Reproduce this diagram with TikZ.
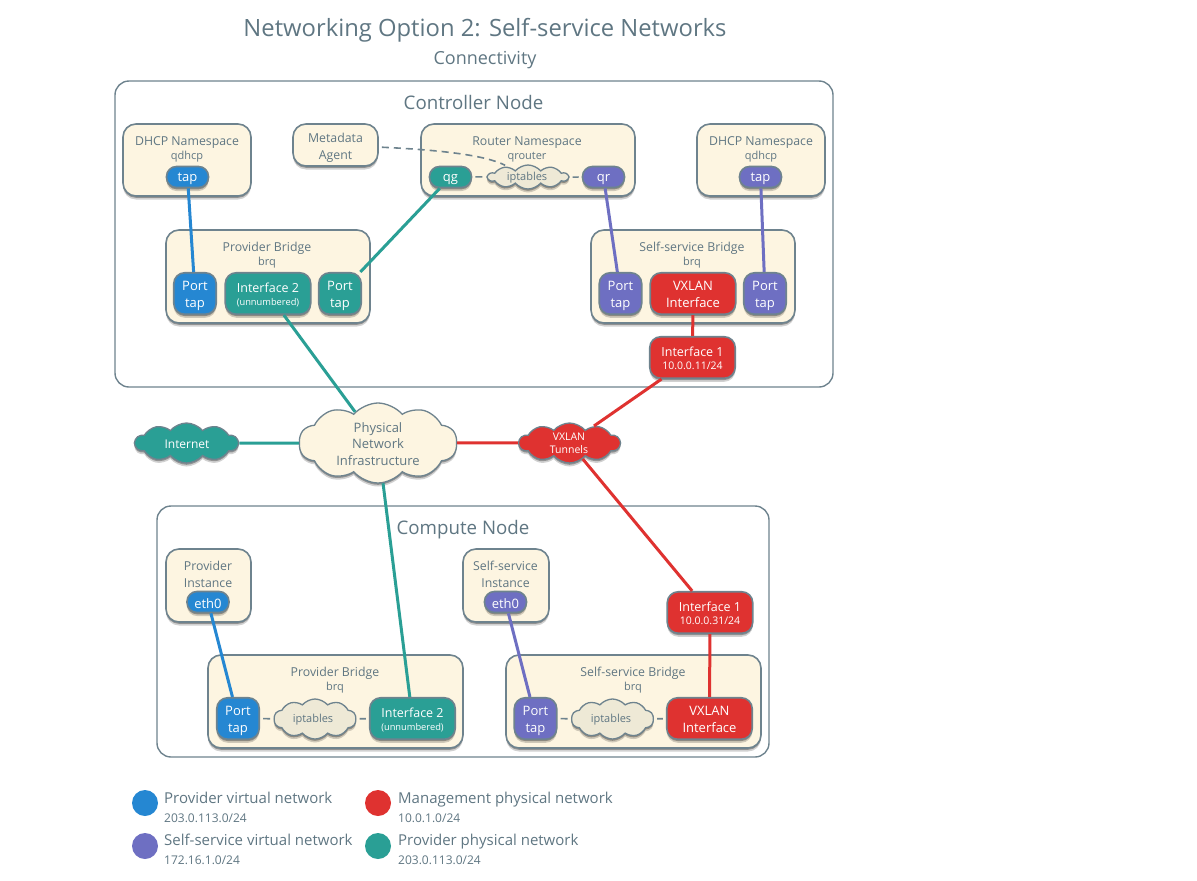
\documentclass[tikz,border=0pt]{standalone}
\usepackage{fontspec}
\setmainfont{Open Sans}
\usetikzlibrary{shapes.symbols}
\usetikzlibrary{shadows}
\definecolor{inkgray}{HTML}{5F7682}
\definecolor{linegray}{HTML}{6E838E}
\definecolor{panelcream}{HTML}{FDF5E1}
\definecolor{cloudcream}{HTML}{EEE9D6}
\definecolor{netblue}{HTML}{2587D2}
\definecolor{netpurple}{HTML}{6E6FC2}
\definecolor{netred}{HTML}{DF3230}
\definecolor{netgreen}{HTML}{2A9F95}
\newcommand{\subfont}{\fontsize{11}{13}\selectfont}
\newcommand{\notefont}{\fontsize{9.3}{11}\selectfont}
\newcommand{\addrfont}{\fontsize{10.5}{12}\selectfont}
\newcommand{\ifacefont}{\fontsize{12.5}{17}\selectfont}
\newcommand{\keyfont}{\fontsize{12}{14}\selectfont}
\newcommand{\chipline}[1]{\raisebox{-2.5pt}[8pt][2pt]{#1}}
\tikzset{
	softshadow/.style = {drop shadow = {shadow xshift = 0pt, shadow yshift = -3.5pt, opacity = 0.18, fill = black}, drop shadow = {shadow xshift = 0pt, shadow yshift = -1.8pt, opacity = 0.3, fill = black}},
	hostbox/.style = {draw = linegray, line width = 1.4pt, rounded corners = 14pt, fill = white},
	hosttext/.style = {text = inkgray, font = \fontsize{18.7}{22}\selectfont},
	panel/.style = {draw = linegray, line width = 1.6pt, rounded corners = 13pt, fill = panelcream, softshadow},
	paneltext/.style = {text = inkgray, align = center, inner sep = 0pt, font = \fontsize{12.3}{15}\selectfont},
	chip/.style = {draw = linegray, line width = 1.6pt, rounded corners = 11pt, fill = #1, text = white, align = center, inner sep = 0pt, softshadow, font = \fontsize{13}{17}\selectfont},
	pill/.style = {chip = #1, execute at begin node = {\rule{0pt}{13pt}}, rounded corners = 10pt, minimum width = 42pt, minimum height = 21pt},
	porttap/.style = {chip = #1, minimum width = 42.5pt, minimum height = 41.5pt},
	wideport/.style = {chip = #1, minimum width = 85.5pt, minimum height = 41.5pt},
	puff/.style = {cloud, cloud puffs = 10, cloud puff arc = 100, cloud ignores aspect, draw = linegray, line width = 1.3pt, fill = #1, inner sep = 0pt, align = center, softshadow},
	wire/.style = {line width = 3pt, draw = #1},
	dashwire/.style = {line width = 1.6pt, draw = linegray, dash pattern = on 7pt off 5pt, shorten > = 3pt, shorten < = 3pt},
	keydot/.style = {circle, fill = #1, minimum size = 26pt, inner sep = 0pt},
	keytext/.style = {anchor = west, align = left, inner sep = 0pt, text = inkgray, font = \fontsize{15}{19}\selectfont}
}

\begin{document}
\begin{tikzpicture}[x = 1pt, y = -1pt]
	\useasboundingbox (0,0) rectangle (1197,881);

	\node[text = inkgray, font = \fontsize{23.8}{28}\selectfont] (title) at (485,30) {Networking Option 2: Self-service Networks};
	\node[text = inkgray, font = \fontsize{18}{22}\selectfont] (subtitle) at (485,60) {Connectivity};

	% controller node
	\node[hostbox, minimum width = 718pt, minimum height = 306pt] (controller) at (474,234) {};
	\node[hosttext] (controllertext) at (473.5,102) {Controller Node};

	\node[panel, minimum width = 128pt, minimum height = 72pt] (dhcpa) at (187,160) {};
	\node[paneltext] (dhcpatext) at (187,149) {DHCP Namespace\\[-1pt]{\subfont qdhcp}};
	\node[pill = netblue] (tapa) at (187.5,177) {tap};

	\node[panel, minimum width = 85pt, minimum height = 42pt] (metadata) at (335.5,145) {};
	\node[paneltext, font = \fontsize{12.3}{17}\selectfont] (metadatatext) at (335.5,148) {Metadata\\Agent};

	\node[panel, minimum width = 214pt, minimum height = 72pt] (router) at (528,160) {};
	\node[paneltext] (routertext) at (527,149) {Router Namespace\\[-1pt]{\subfont qrouter}};
	\node[pill = netgreen] (qg) at (450.5,177) {qg};
	\node[pill = netpurple] (qr) at (603.5,177) {qr};
	\node[puff = cloudcream, minimum width = 80pt, minimum height = 24pt] (iptablesa) at (528,177) {};
	\node[text = inkgray, inner sep = 0pt, font = \subfont] (iptablesatext) at (527,177.5) {iptables};

	\node[panel, minimum width = 128pt, minimum height = 72pt] (dhcpb) at (761,160) {};
	\node[paneltext] (dhcpbtext) at (761,149) {DHCP Namespace\\[-1pt]{\subfont qdhcp}};
	\node[pill = netpurple] (tapb) at (760.5,177) {tap};

	\node[panel, minimum width = 204pt, minimum height = 93pt] (providera) at (268,276.5) {};
	\node[paneltext] (provideratext) at (267,255) {Provider Bridge\\[-1pt]{\subfont brq}};
	\node[porttap = netblue] (porta) at (195,293.5) {\chipline{Port}\\\chipline{tap}};
	\node[wideport = netgreen] (ifaceb) at (268,293.5) {\chipline{\ifacefont Interface 2}\\[-4pt]\chipline{\notefont (unnumbered)}};
	\node[porttap = netgreen] (portb) at (340,293.5) {\chipline{Port}\\\chipline{tap}};

	\node[panel, minimum width = 204pt, minimum height = 93pt] (selfa) at (693,276.5) {};
	\node[paneltext] (selfatext) at (692,255) {Self-service Bridge\\[-1pt]{\subfont brq}};
	\node[porttap = netpurple] (portc) at (620.5,293.5) {\chipline{Port}\\\chipline{tap}};
	\node[wideport = netred] (vxlana) at (693,293.5) {\chipline{VXLAN}\\\chipline{Interface}};
	\node[porttap = netpurple] (portd) at (765,293.5) {\chipline{Port}\\\chipline{tap}};

	\node[wideport = netred] (ifacea) at (692.5,357.5) {\chipline{\ifacefont Interface 1}\\[-4pt]\chipline{\addrfont 10.0.0.11/24}};

	% clouds in between
	\node[puff = netgreen, minimum width = 103pt, minimum height = 40pt] (internet) at (186.5,443) {};
	\node[text = white, inner sep = 0pt, font = \fontsize{12}{15}\selectfont] (internettext) at (187,444) {Internet};
	\node[puff = panelcream, minimum width = 158pt, minimum height = 80pt] (physical) at (378,443) {};
	\node[paneltext, font = \fontsize{13}{16.5}\selectfont] (physicaltext) at (378,444) {Physical\\Network\\Infrastructure};
	\node[puff = netred, minimum width = 101pt, minimum height = 40pt] (vxlancloud) at (569.5,443) {};
	\node[text = white, align = center, inner sep = 0pt, font = \fontsize{10.5}{13}\selectfont] (vxlantext) at (569,443) {VXLAN\\Tunnels};

	% compute node
	\node[hostbox, minimum width = 612pt, minimum height = 251pt] (compute) at (463,631.5) {};
	\node[hosttext] (computetext) at (463,530) {Compute Node};

	\node[panel, minimum width = 85pt, minimum height = 73pt] (instancea) at (208.5,585.5) {};
	\node[paneltext, font = \fontsize{12.3}{17}\selectfont] (instanceatext) at (208,574) {Provider\\Instance};
	\node[pill = netblue] (etha) at (208,602) {eth0};

	\node[panel, minimum width = 86pt, minimum height = 73pt] (instanceb) at (506,585.5) {};
	\node[paneltext, font = \fontsize{12.3}{17}\selectfont] (instancebtext) at (505.5,574) {Self-service\\Instance};
	\node[pill = netpurple] (ethb) at (505.5,602) {eth0};

	\node[wideport = netred] (ifacec) at (710,612.5) {\chipline{\ifacefont Interface 1}\\[-4pt]\chipline{\addrfont 10.0.0.31/24}};

	\node[panel, minimum width = 255pt, minimum height = 93pt] (providerb) at (335.5,701.5) {};
	\node[paneltext] (providerbtext) at (335,680) {Provider Bridge\\[-1pt]{\subfont brq}};
	\node[porttap = netblue] (porte) at (238,718.5) {\chipline{Port}\\\chipline{tap}};
	\node[puff = cloudcream, minimum width = 82pt, minimum height = 40pt] (iptablesb) at (315,719) {};
	\node[text = inkgray, inner sep = 0pt, font = \subfont] (iptablesbtext) at (313,719.5) {iptables};
	\node[wideport = netgreen] (ifaced) at (412.5,718.5) {\chipline{\ifacefont Interface 2}\\[-4pt]\chipline{\notefont (unnumbered)}};

	\node[panel, minimum width = 255pt, minimum height = 93pt] (selfb) at (633.5,701.5) {};
	\node[paneltext] (selfbtext) at (633,680) {Self-service Bridge\\[-1pt]{\subfont brq}};
	\node[porttap = netpurple] (portf) at (535.5,718.5) {\chipline{Port}\\\chipline{tap}};
	\node[puff = cloudcream, minimum width = 82pt, minimum height = 40pt] (iptablesc) at (612.5,719) {};
	\node[text = inkgray, inner sep = 0pt, font = \subfont] (iptablesctext) at (611,719.5) {iptables};
	\node[wideport = netred] (vxlanb) at (709.5,718.5) {\chipline{VXLAN}\\\chipline{Interface}};

	% colored links
	\draw[wire = netblue] (tapa) -- (porta);
	\draw[wire = netgreen] (qg) -- (portb);
	\draw[wire = netpurple] (qr) -- (portc);
	\draw[wire = netpurple] (tapb) -- (portd);
	\draw[wire = netgreen] (ifaceb) -- (physical);
	\draw[wire = netred] (vxlana) -- (ifacea);
	\draw[wire = netred] (ifacea) -- (vxlancloud);
	\draw[wire = netgreen] (internet) -- (physical);
	\draw[wire = netred] (physical) -- (vxlancloud);
	\draw[wire = netgreen] (physical) -- (ifaced);
	\draw[wire = netred] (vxlancloud) -- (ifacec);
	\draw[wire = netred] (ifacec) -- (vxlanb);
	\draw[wire = netblue] (etha) -- (porte);
	\draw[wire = netpurple] (ethb) -- (portf);

	% dashed links
	\draw[dashwire] (metadata) .. controls (440,150) and (485,155) .. (iptablesa);
	\draw[dashwire] (qg) -- (iptablesa);
	\draw[dashwire] (iptablesa) -- (qr);
	\draw[dashwire] (porte) -- (iptablesb);
	\draw[dashwire] (iptablesb) -- (ifaced);
	\draw[dashwire] (portf) -- (iptablesc);
	\draw[dashwire] (iptablesc) -- (vxlanb);

	% legend
	\node[keydot = netblue] (keya) at (145,803) {};
	\node[keytext] (keyatext) at (164,807) {Provider virtual network\\{\keyfont 203.0.113.0/24}};
	\node[keydot = netpurple] (keyb) at (145,846) {};
	\node[keytext] (keybtext) at (164,849) {Self-service virtual network\\{\keyfont 172.16.1.0/24}};
	\node[keydot = netred] (keyc) at (378,803) {};
	\node[keytext] (keyctext) at (398,807) {Management physical network\\{\keyfont 10.0.1.0/24}};
	\node[keydot = netgreen] (keyd) at (378,846) {};
	\node[keytext] (keydtext) at (398,849) {Provider physical network\\{\keyfont 203.0.113.0/24}};
\end{tikzpicture}
\end{document}
